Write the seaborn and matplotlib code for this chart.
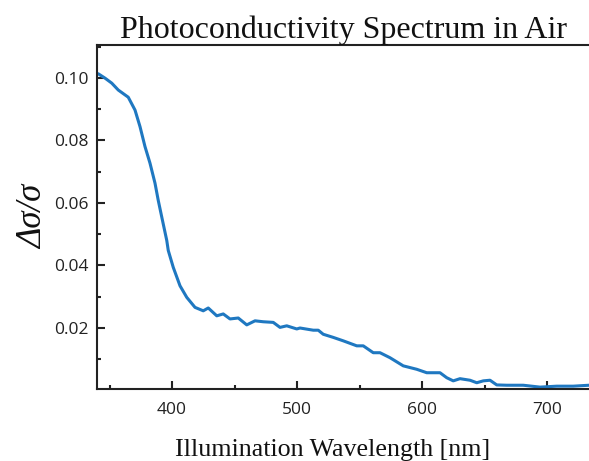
import pandas as pd
import matplotlib
matplotlib.use("Agg")
import matplotlib.pyplot as plt
import seaborn as sns
from matplotlib.ticker import MultipleLocator, AutoMinorLocator

# Data
wavelength = [341, 346.4, 351.8, 357.0, 365.0, 370.4, 374.4, 378.4, 382.4, 386.4,
              389.0, 391.8, 395.8, 397.0, 401.0, 406.4, 411.8, 418.4, 425.0, 429.0,
              435.8, 441.0, 446.4, 453.0, 459.8, 466.4, 473.0, 481.0, 486.4, 491.8,
              499.8, 502.4, 513.0, 517.0, 521.0, 529.0, 537.0, 547.8, 553.0, 561.0,
              566.4, 574.4, 585.0, 595.8, 603.8, 614.4, 619.8, 625.0, 630.4, 638.4,
              643.8, 649.0, 654.4, 659.8, 667.8, 681.0, 694.4, 707.8, 721.0, 733.6]
delta_sigma = [0.1013, 0.0999, 0.0983, 0.0961, 0.0938, 0.0897, 0.0844, 0.0780, 0.0727, 0.0663,
               0.0608, 0.0555, 0.0480, 0.0448, 0.0394, 0.0335, 0.0298, 0.0266, 0.0255, 0.0264,
               0.0239, 0.0245, 0.0229, 0.0232, 0.0210, 0.0223, 0.0220, 0.0218, 0.0202, 0.0207,
               0.0197, 0.0200, 0.0193, 0.0193, 0.0180, 0.0170, 0.0159, 0.0143, 0.0143, 0.0121,
               0.0121, 0.0105, 0.0079, 0.0068, 0.0057, 0.0057, 0.0041, 0.0031, 0.0038, 0.0033,
               0.0025, 0.0031, 0.0033, 0.0018, 0.0017, 0.0017, 0.0011, 0.0014, 0.0014, 0.0017]

df = pd.DataFrame({"wavelength": wavelength, "ds": delta_sigma})

sns.set_style("ticks")
plt.rcParams['font.family'] = ['Open Sans', 'DejaVu Sans']

fig = plt.figure(figsize=(5.89, 4.61), dpi=100)
ax = fig.add_axes([0.1647, 0.1562, 0.8353, 0.7462])

sns.lineplot(data=df, x="wavelength", y="ds", ax=ax, color="#1f78c1", linewidth=2.2)

ax.set_xlim(340, 733.6)
ax.set_ylim(0.0005, 0.1105)
ax.xaxis.set_major_locator(MultipleLocator(100))
ax.xaxis.set_minor_locator(AutoMinorLocator(2))
ax.yaxis.set_major_locator(MultipleLocator(0.02))
ax.yaxis.set_minor_locator(AutoMinorLocator(2))
ax.set_yticks([0.02, 0.04, 0.06, 0.08, 0.10])
ax.set_yticklabels(["0.02", "0.04", "0.06", "0.08", "0.10"])

ax.tick_params(which="both", direction="in", color="#222222", labelsize=12.5,
               labelcolor="#222222")
ax.tick_params(which="major", length=6, width=1.5)
ax.tick_params(which="minor", length=3, width=1.5)
ax.tick_params(axis="x", pad=9.5)
ax.tick_params(axis="y", pad=6)

for side in ["left", "bottom", "top"]:
    ax.spines[side].set_linewidth(1.5)
    ax.spines[side].set_color("#222222")
ax.spines["right"].set_visible(False)

ax.set_title("Photoconductivity Spectrum in Air", family="Liberation Serif",
             fontsize=23, pad=4, color="#111111")
ax.set_xlabel("Illumination Wavelength [nm]", family="Liberation Serif",
              fontsize=18.7, color="#111111")
ax.xaxis.set_label_coords(0.479, -0.145)
ax.set_ylabel("Δσ/σ", family="Liberation Serif", style="italic",
              fontsize=25, labelpad=3, color="#111111")

fig.savefig("out.png", dpi=100)
